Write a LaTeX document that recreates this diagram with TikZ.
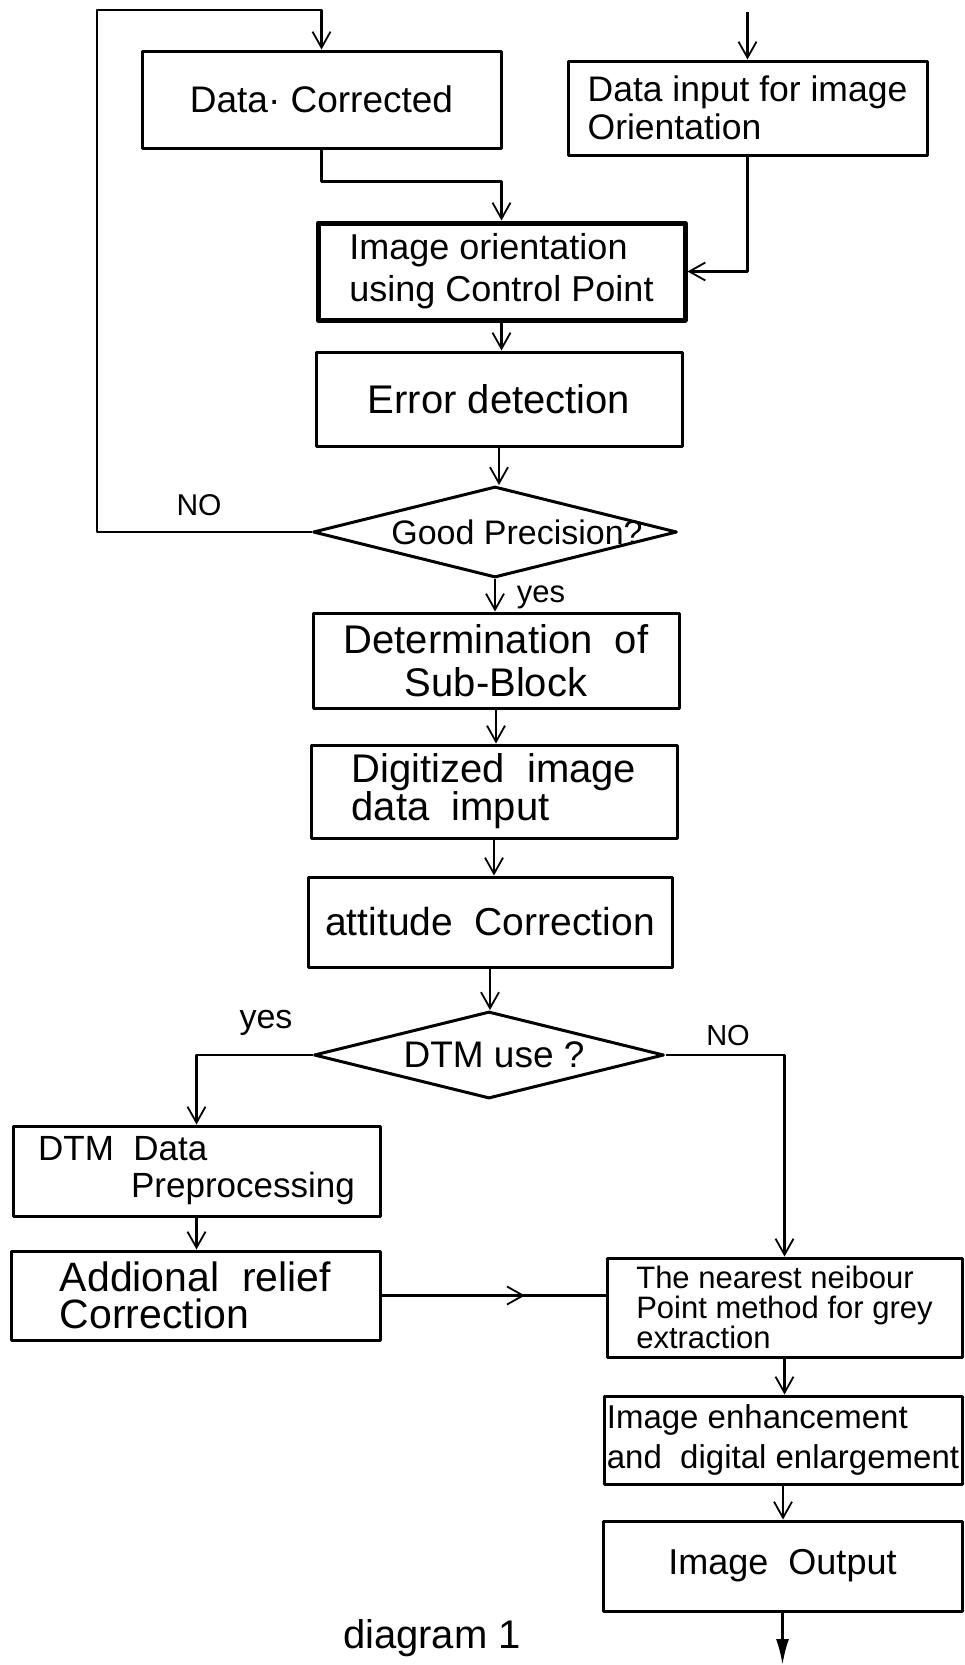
\documentclass[tikz,border=0pt]{standalone}
\usepackage{fontspec}
\setmainfont{Liberation Sans}
\usetikzlibrary{arrows.meta,shapes.geometric,decorations.markings}
\newcommand{\fs}[2]{\fontsize{#1}{#2}\selectfont}
\tikzset{
  box/.style={draw, rectangle, line width=3pt, inner sep=0pt, line join=round},
  thickbox/.style={box, line width=5pt},
  dec/.style={draw, diamond, line width=3pt, inner sep=0pt, line join=round},
  conn/.style={line width=2.6pt, line join=round},
  barb/.tip={Straight Barb[length=16pt,width=18pt,line width=1.8pt]},
  arr/.style={conn, -barb},
  lbl/.style={inner sep=0pt},
}
\begin{document}
\begin{tikzpicture}[x=1pt,y=-1pt]
\useasboundingbox (0,0) rectangle (965,1665);

% boxes
\node[box, minimum width=359pt, minimum height=97pt, font=\fs{37}{40}] (dc) at (321.5,99.5) {Data· Corrected};
\node[box, minimum width=359pt, minimum height=94pt, font=\fs{35.5}{38}, align=left] (di) at (747.5,108) {Data input for image\\Orientation};
\node[thickbox, minimum width=367pt, minimum height=97pt, font=\fs{36}{42}, align=left] (io) at (501.5,271.5) {Image orientation\\using Control Point};
\node[box, minimum width=366pt, minimum height=94pt, font=\fs{40}{44}] (ed) at (499,399) {Error detection};
\node[dec, minimum width=364pt, minimum height=91pt,
      label={[lbl, font=\fs{34}{38}, xshift=22pt]center:Good Precision?}] (gp) at (495,532) {};
\node[box, minimum width=366pt, minimum height=95pt, font=\fs{40}{43}, align=center] (db) at (496,660.5) {Determination\ \ of\\Sub-Block};
\node[box, minimum width=366pt, minimum height=93pt, font=\fs{40}{37}, align=left] (dg) at (494,791.5) {Digitized\ \ image\\data\ \ imput};
\node[box, minimum width=364pt, minimum height=90pt, font=\fs{39}{44}] (ac) at (490,922) {attitude\ \ Correction};
\node[dec, minimum width=350pt, minimum height=87pt,
      label={[lbl, font=\fs{37}{40}, xshift=5pt]center:DTM use ?}] (du) at (489,1055) {};
\node[box, minimum width=367pt, minimum height=90pt, font=\fs{35}{37}, align=left] (dp) at (196.5,1171) {DTM\ \ Data\\\hspace*{93pt}Preprocessing};
\node[box, minimum width=369pt, minimum height=89pt, font=\fs{41}{37}, align=left] (ar) at (195.5,1295.5) {Addional\ \ relief\\Correction};
\node[box, minimum width=355pt, minimum height=99pt, font=\fs{31}{30}, align=left] (nn) at (784.5,1307.5) {The nearest neibour\\Point method for grey\\extraction};
\node[box, minimum width=358pt, minimum height=88pt, font=\fs{33}{40}, align=left] (ie) at (783,1440) {Image enhancement\\and\ \ digital enlargement};
\node[box, minimum width=359pt, minimum height=90pt, font=\fs{36}{40}] (oo) at (782.5,1566) {Image\ \ Output};

% free ends
\coordinate (loopL) at (97,10);
\coordinate (inTop) at (747.5,12);
\coordinate (outEnd) at (782.5,1665);

% connectors
\draw[arr] (gp.west) -| (loopL) -| (dc.north);
\draw[arr] (inTop) -- (di.north);
\draw[arr] (dc.south) -- ++(0,32) -| (io.north);
\draw[arr] (di.south) |- (io.east);
\draw[arr] (io.south) -- (io.south |- ed.north);
\draw[arr] (ed.south) -- (ed.south |- gp.north);
\draw[arr] (gp.south) -- (gp.south |- db.north);
\draw[arr] (db.south) -- (db.south |- dg.north);
\draw[arr] (dg.south) -- (dg.south |- ac.north);
\draw[arr] (ac.south) -- (ac.south |- du.north);
\draw[arr] (du.west) -| (dp.north);
\draw[arr] (du.east) -| (nn.north);
\draw[arr] (dp.south) -- (dp.south |- ar.north);
\draw[conn, postaction={decorate},
      decoration={markings, mark=at position 0.64 with {\arrow{barb}}}]
      (ar.east) -- (ar.east -| nn.west);
\draw[arr] (nn.south) -- (nn.south |- ie.north);
\draw[arr] (ie.south) -- (ie.south |- oo.north);
\draw[conn, -{Latex[length=26pt,width=13pt]}] (oo.south) -- (outEnd);

% labels
\node[lbl, font=\fs{30}{32}] (no1) at (199,505) {NO};
\node[lbl, font=\fs{31}{33}] (yes1) at (541,597) {yes};
\node[lbl, font=\fs{34}{36}] (yes2) at (266,1023) {yes};
\node[lbl, font=\fs{29}{31}] (no2) at (728,1036) {NO};
\node[lbl, font=\fs{40}{44}] (cap) at (432,1638) {diagram 1};
\end{tikzpicture}
\end{document}
